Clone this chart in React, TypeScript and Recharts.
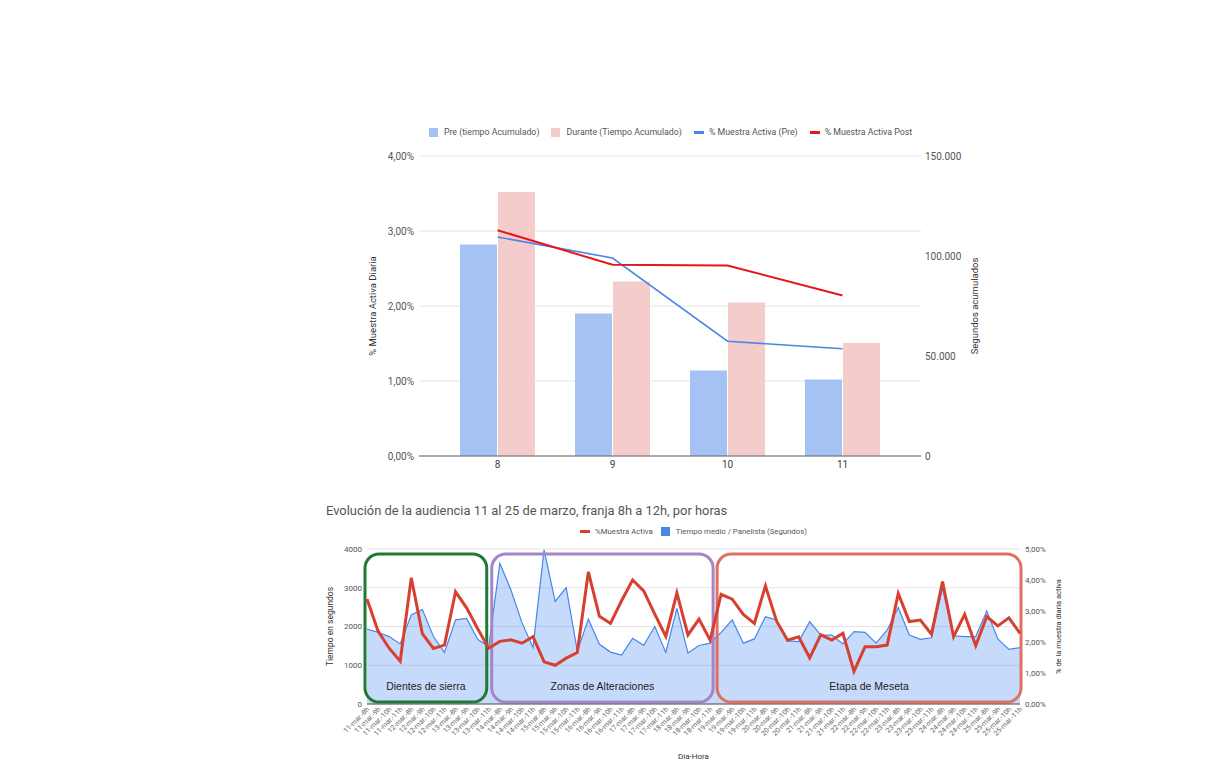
import React from "react";
import {
  Area,
  Bar,
  CartesianGrid,
  ComposedChart,
  Line,
  ReferenceArea,
  XAxis,
  YAxis,
} from "recharts";

// --- gráfico superior: acumulado por hora ---
const horas = ["8", "9", "10", "11"];
const preAcumulado = [105800, 71300, 42700, 38300];
const duranteAcumulado = [132000, 87200, 76700, 56500];
const muestraPre = [2.92, 2.64, 1.53, 1.43];
const muestraPost = [3.01, 2.55, 2.54, 2.14];

// --- gráfico inferior: evolución por día y hora ---
const dias = ["11", "12", "13", "14", "15", "16", "17", "18", "19", "20", "21", "22", "23", "24", "25"];
const franjas = ["8h", "9h", "10h", "11h"];
const diaHora = dias.flatMap((d) => franjas.map((h) => `${d}-mar.-${h}`));

const tiempoMedio = [
  1935, 1850, 1740, 1550, 2300, 2440, 1740, 1330, 2170, 2210,
  1670, 1480, 3630, 2950, 2100, 1460, 3980, 2650, 3000, 1370,
  2190, 1540, 1340, 1265, 1695, 1515, 2000, 1330, 2470, 1315,
  1510, 1570, 1850, 2170, 1570, 1680, 2250, 2170, 1630, 1610,
  2125, 1780, 1780, 1550, 1870, 1850, 1570, 1910, 2490, 1780,
  1670, 1710, 3000, 1760, 1740, 1740, 2400, 1680, 1410, 1455,
];

const muestraActiva = [
  3.39, 2.35, 1.8, 1.38, 4.07, 2.27, 1.79, 1.9, 3.62, 3.1,
  2.43, 1.8, 2.02, 2.07, 1.96, 2.17, 1.36, 1.25, 1.48, 1.66,
  4.26, 2.83, 2.6, 3.33, 4.0, 3.65, 2.9, 2.18, 3.58, 2.23,
  2.74, 2.06, 3.54, 3.38, 2.89, 2.6, 3.81, 2.68, 2.06, 2.17,
  1.49, 2.23, 2.06, 2.28, 1.05, 1.85, 1.85, 1.9, 3.57, 2.66,
  2.71, 2.25, 3.95, 2.17, 2.89, 1.88, 2.82, 2.52, 2.78, 2.28,
];

// zonas anotadas (índices de diaHora)
const zonaNombres = ["Dientes de sierra", "Zonas de Alteraciones", "Etapa de Meseta"];
const zonaDesde = [0, 11, 31];
const zonaHasta = [11, 31, 59];
const zonaColores = ["#1f7a33", "#a385c8", "#e07060"];
const zonaAjuste = [[-2, -2], [3, 3], [7, 1]];

const topData = horas.map((h, i) => ({
  hora: h,
  pre: preAcumulado[i],
  durante: duranteAcumulado[i],
  mPre: muestraPre[i],
  mPost: muestraPost[i],
}));

const bottomData = diaHora.map((c, i) => ({
  diaHora: c,
  tiempo: tiempoMedio[i],
  muestra: muestraActiva[i],
}));

const fmtPct = (v: number) => v.toFixed(2).replace(".", ",") + "%";
const fmtMiles = (v: number) => String(v).replace(/\B(?=(\d{3})+(?!\d))/g, ".");

const FONT = "Roboto, Arial, sans-serif";

const TickDiaHora = (props: any) => {
  const { x, y, payload } = props;
  return (
    <text
      x={x}
      y={y}
      dy={4}
      textAnchor="end"
      fontSize={7}
      fill="#666"
      transform={`rotate(-45, ${x}, ${y})`}
    >
      {payload.value}
    </text>
  );
};

const zonaShape = (i: number) => (props: any) => {
  const { x, y, width, height } = props;
  const [dl, dr] = zonaAjuste[i];
  const x0 = x + dl;
  const w = width + dr - dl;
  return (
    <g>
      <rect
        x={x0}
        y={y}
        width={w}
        height={height}
        rx={14}
        ry={14}
        fill="none"
        stroke={zonaColores[i]}
        strokeWidth={3}
      />
      <text
        x={x0 + w / 2}
        y={y + height - 16}
        dy={4}
        textAnchor="middle"
        fontSize={10.5}
        fill="#222"
        style={{ fontFamily: "'Liberation Sans', Arial, sans-serif" }}
      >
        {zonaNombres[i]}
      </text>
    </g>
  );
};

const legendTop = [
  { name: "Pre (tiempo Acumulado)", color: "#a4c2f4", kind: "square" },
  { name: "Durante (Tiempo Acumulado)", color: "#f4cccc", kind: "square" },
  { name: "% Muestra Activa (Pre)", color: "#4a86e8", kind: "line" },
  { name: "% Muestra Activa Post", color: "#e5161c", kind: "line" },
];

const legendBottom = [
  { name: "%Muestra Activa", color: "#d7402f", kind: "line" },
  { name: "Tiempo medio / Panelista (Segundos)", color: "#4a86e8", kind: "square" },
];

const LegendRow = ({ items, fontSize, gap }: any) => (
  <div style={{ display: "flex", justifyContent: "center", alignItems: "center", fontSize, color: "#555" }}>
    {items.map((it: any) => (
      <div key={it.name} style={{ display: "flex", alignItems: "center", margin: `0 ${gap}px` }}>
        <span
          style={
            it.kind === "square"
              ? { width: 9, height: 9, background: it.color, marginRight: 6 }
              : { width: 10, height: 3, background: it.color, marginRight: 5 }
          }
        />
        <span>{it.name}</span>
      </div>
    ))}
  </div>
);

export default function App() {
  return (
    <div style={{ position: "absolute", left: 0, top: 0, width: 1225, height: 775, background: "#fff", fontFamily: FONT }}>
      {/* leyenda superior */}
      <div style={{ position: "absolute", left: 340, top: 127, width: 661 }}>
        <LegendRow items={legendTop} fontSize={8.8} gap={6} />
      </div>

      <div style={{ position: "absolute", left: 330, top: 110 }}>
        <ComposedChart
          width={661}
          height={376}
          data={topData}
          margin={{ top: 46, right: 0, left: 0, bottom: 0 }}
          barGap={1}
        >
          <CartesianGrid vertical={false} yAxisId="pct" stroke="#e4e4e4" />
          <XAxis
            dataKey="hora"
            padding={{ left: 21, right: 21 }}
            tickLine={false}
            tickSize={0}
            tickMargin={5}
            axisLine={{ stroke: "#666" }}
            tick={{ fontSize: 10, fill: "#444" }}
            height={30}
          />
          <YAxis
            yAxisId="pct"
            domain={[0, 4]}
            ticks={[0, 1, 2, 3, 4]}
            tickFormatter={fmtPct}
            width={89}
            axisLine={false}
            tickLine={false}
            tickSize={0}
            tickMargin={5}
            tick={{ fontSize: 10, fill: "#555" }}
            label={{
              value: "% Muestra Activa Diaria",
              angle: -90,
              position: "insideLeft",
              offset: 43,
              style: { textAnchor: "middle", fontSize: 9.5, fill: "#333" },
            }}
          />
          <YAxis
            yAxisId="seg"
            orientation="right"
            domain={[0, 150000]}
            ticks={[0, 50000, 100000, 150000]}
            tickFormatter={fmtMiles}
            width={70}
            axisLine={false}
            tickLine={false}
            tickSize={0}
            tickMargin={4}
            tick={{ fontSize: 10, fill: "#555" }}
            label={{
              value: "Segundos acumulados",
              angle: -90,
              position: "insideRight",
              offset: 16,
              style: { textAnchor: "middle", fontSize: 9.5, fill: "#333" },
            }}
          />
          <Bar yAxisId="seg" dataKey="pre" fill="#a4c2f4" barSize={37} isAnimationActive={false} />
          <Bar yAxisId="seg" dataKey="durante" fill="#f4cccc" barSize={37} isAnimationActive={false} />
          <Line yAxisId="pct" dataKey="mPre" stroke="#4a86e8" strokeWidth={1.6} dot={false} isAnimationActive={false} />
          <Line yAxisId="pct" dataKey="mPost" stroke="#e5161c" strokeWidth={2} dot={false} isAnimationActive={false} />
        </ComposedChart>
      </div>

      {/* gráfico inferior */}
      <div style={{ position: "absolute", left: 326, top: 503, fontSize: 12.9, color: "#555" }}>
        Evolución de la audiencia 11 al 25 de marzo, franja 8h a 12h, por horas
      </div>
      <div style={{ position: "absolute", left: 367, top: 527, width: 653 }}>
        <LegendRow items={legendBottom} fontSize={7.8} gap={4} />
      </div>

      <div style={{ position: "absolute", left: 310, top: 525 }}>
        <ComposedChart
          width={760}
          height={242}
          data={bottomData}
          margin={{ top: 24, right: 0, left: 0, bottom: 7 }}
        >
          <CartesianGrid vertical={false} yAxisId="seg" stroke="#e4e4e4" />
          <XAxis
            dataKey="diaHora"
            scale="point"
            interval={0}
            height={56}
            tick={(p: any) => <TickDiaHora {...p} />}
            tickLine={false}
            tickSize={0}
            tickMargin={3}
            axisLine={{ stroke: "#555" }}
            label={{ value: "Dia-Hora", position: "insideBottom", offset: 1, style: { fontSize: 8, fill: "#333" } }}
          />
          <YAxis
            yAxisId="seg"
            domain={[0, 4000]}
            ticks={[0, 1000, 2000, 3000, 4000]}
            width={57}
            axisLine={false}
            tickLine={false}
            tickSize={0}
            tickMargin={5}
            tick={{ fontSize: 8, fill: "#555" }}
            label={{
              value: "Tiempo en segundos",
              angle: -90,
              position: "insideLeft",
              offset: 20,
              style: { textAnchor: "middle", fontSize: 8.5, fill: "#333" },
            }}
          />
          <YAxis
            yAxisId="pct"
            orientation="right"
            domain={[0, 5]}
            ticks={[0, 1, 2, 3, 4, 5]}
            tickFormatter={fmtPct}
            width={50}
            axisLine={false}
            tickLine={false}
            tickSize={0}
            tickMargin={5}
            tick={{ fontSize: 8, fill: "#555" }}
            label={{
              value: "% de la muestra diaria activa",
              angle: -90,
              position: "insideRight",
              offset: 12,
              style: { textAnchor: "middle", fontSize: 7.5, fill: "#333" },
            }}
          />
          <Area
            yAxisId="seg"
            dataKey="tiempo"
            stroke="#4a86e8"
            strokeWidth={1.2}
            fill="#4285f4"
            fillOpacity={0.3}
            isAnimationActive={false}
          />
          <Line
            yAxisId="pct"
            dataKey="muestra"
            stroke="#d7402f"
            strokeWidth={3}
            dot={false}
            isAnimationActive={false}
          />
          {zonaNombres.map((n, i) => (
            <ReferenceArea
              key={n}
              yAxisId="seg"
              x1={diaHora[zonaDesde[i]]}
              x2={diaHora[zonaHasta[i]]}
              y1={50}
              y2={3870}
              shape={zonaShape(i)}
            />
          ))}
        </ComposedChart>
      </div>
    </div>
  );
}
